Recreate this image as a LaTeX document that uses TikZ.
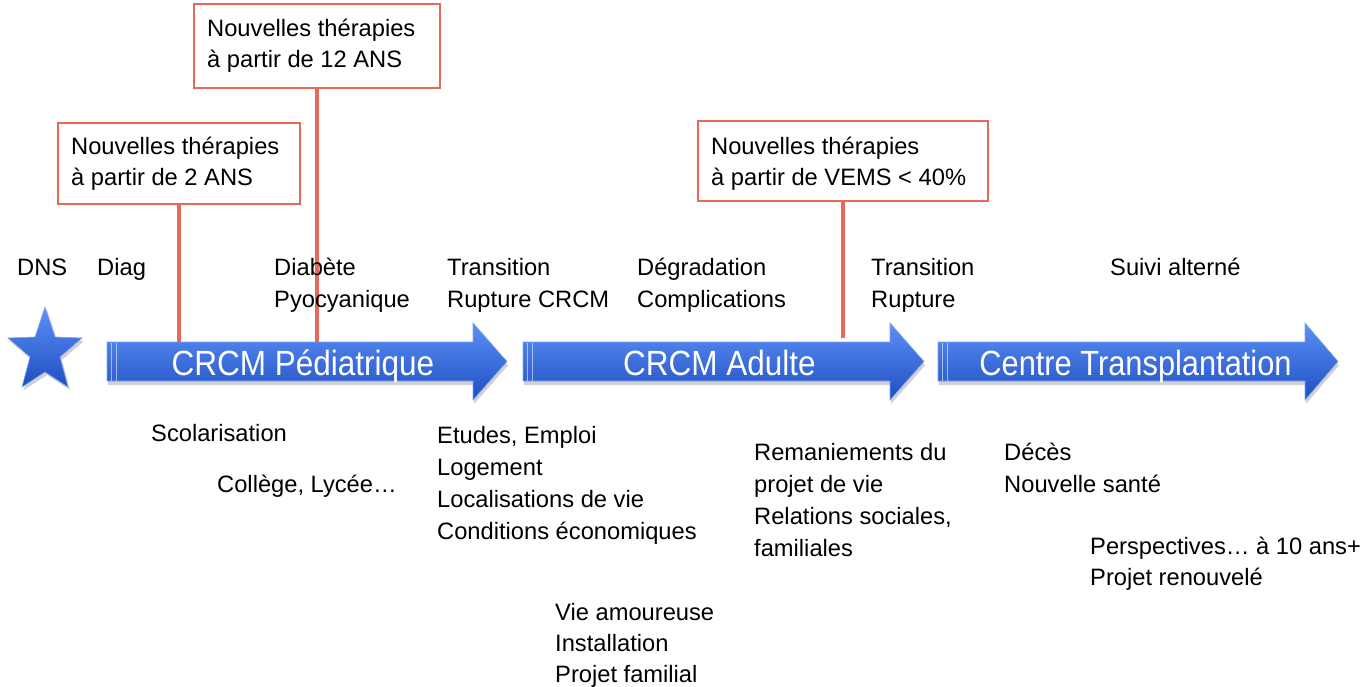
\documentclass[tikz,border=0pt]{standalone}
\usepackage{fontspec}
\setmainfont{Liberation Sans}
\usetikzlibrary{calc}
\definecolor{redl}{HTML}{E8695A}
\definecolor{blueT}{HTML}{5C90F7}
\definecolor{blueB}{HTML}{1F4EC0}
\definecolor{blueE}{HTML}{7FA6F0}
\newcommand\ml[2][32]{\vtop{\baselineskip=#1pt\lineskiplimit=-100pt\halign{##\hfil\cr#2\crcr}}}
\tikzset{
  txt/.style={anchor=base west, inner sep=0pt, font=\fontsize{23.7}{32}\selectfont, text=black},
  redbox/.style={draw=redl, line width=1.8pt, fill=white, anchor=north west, inner sep=0pt},
  redline/.style={draw=redl, line width=3.6pt},
  arrfill/.style={top color=blueT, bottom color=blueB, draw=blueE, line width=0.6pt},
  arrshadow/.style={fill=black, opacity=0.18},
  arrtext/.style={anchor=base, inner sep=0pt, text=white, font=\fontsize{35}{40}\selectfont},
  stripe/.style={draw=white, opacity=0.55, line width=0.8pt}
}
\begin{document}
\begin{tikzpicture}[x=1pt, y=-1pt]
\useasboundingbox (0,0) rectangle (1362,687);
\fill[white] (0,0) rectangle (1362,687);

% star
\fill[arrshadow] ($(45,307)+(2,3)$) -- ($(55,337)+(2,3)$) -- ($(82,338)+(2,3)$) -- ($(60,357)+(2,3)$) -- ($(68,387)+(2,3)$) -- ($(45,372)+(2,3)$) -- ($(22,387)+(2,3)$) -- ($(30,357)+(2,3)$) -- ($(8,338)+(2,3)$) -- ($(35,337)+(2,3)$) -- cycle;
\path[arrfill] (45,307) -- (55,337) -- (82,338) -- (60,357) -- (68,387) -- (45,372) -- (22,387) -- (30,357) -- (8,338) -- (35,337) -- cycle;

% arrows
\foreach \l/\b/\t in {107/473/507, 523/890/924, 938/1305/1338}{
  \fill[arrshadow] ($(\l,342)+(1,4)$) -- ($(\b,342)+(1,4)$) -- ($(\b,323)+(1,4)$) -- ($(\t,361.5)+(1,4)$) -- ($(\b,400)+(1,4)$) -- ($(\b,381)+(1,4)$) -- ($(\l,381)+(1,4)$) -- cycle;
  \path[arrfill] (\l,342) -- (\b,342) -- (\b,323) -- (\t,361.5) -- (\b,400) -- (\b,381) -- (\l,381) -- cycle;
  \draw[stripe] (\l+4.5,342.5) -- (\l+4.5,380.5);
  \draw[stripe] (\l+9.5,342.5) -- (\l+9.5,380.5);
}
\node[arrtext] (a1) at (303,375) {\scalebox{0.9}[1]{CRCM Pédiatrique}};
\node[arrtext] (a2) at (719.5,375) {\scalebox{0.9}[1]{CRCM Adulte}};
\node[arrtext] (a3) at (1135.5,375) {\scalebox{0.88}[1]{Centre Transplantation}};

\coordinate (c1) at (176,342);
\coordinate (c2) at (316,342);
\coordinate (c3) at (842,338);

% red boxes
\node[redbox, minimum width=242pt, minimum height=81pt] (b1) at (57,122) {};
\node[redbox, minimum width=246pt, minimum height=84pt] (b2) at (193,3) {};
\node[redbox, minimum width=290pt, minimum height=80pt] (b3) at (697,120) {};
\draw[redline] (b1.south) -- (b1.south |- c1);
\draw[redline] (b2.south) -- (b2.south |- c2);
\draw[redline] (b3.south) -- (b3.south |- c3);
\node[txt] (bt1) at (71,155) {\ml[30.5]{Nouvelles thérapies\cr à partir de 2 ANS}};
\node[txt] (bt2) at (207,37) {\ml[31]{Nouvelles thérapies\cr à partir de 12 ANS}};
\node[txt] (bt3) at (711,155) {\ml[30.5]{Nouvelles thérapies\cr à partir de VEMS < 40\%}};

% top labels
\node[txt] (dns) at (17,275.5) {DNS};
\node[txt] (diag) at (97,275.5) {Diag};
\node[txt] (diab) at (274,275.5) {\ml{Diabète\cr Pyocyanique}};
\node[txt] (tr1) at (447,275.5) {\ml{Transition\cr Rupture CRCM}};
\node[txt] (deg) at (637,275.5) {\ml{Dégradation\cr Complications}};
\node[txt] (tr2) at (871,275.5) {\ml{Transition\cr Rupture}};
\node[txt] (suivi) at (1110,275.5) {Suivi alterné};

% bottom labels
\node[txt] (scol) at (151,441) {Scolarisation};
\node[txt] (coll) at (217,492) {Collège, Lycée…};
\node[txt] (etud) at (437,443) {\ml[32.2]{Etudes, Emploi\cr Logement\cr Localisations de vie\cr Conditions économiques}};
\node[txt] (vie) at (555,620) {\ml[31]{Vie amoureuse\cr Installation\cr Projet familial}};
\node[txt] (rem) at (754,460) {\ml{Remaniements du\cr projet de vie\cr Relations sociales,\cr familiales}};
\node[txt] (dec) at (1004,460) {\ml{Décès\cr Nouvelle santé}};
\node[txt] (persp) at (1090,554) {\ml[31]{Perspectives… à 10 ans+\cr Projet renouvelé}};
\end{tikzpicture}
\end{document}
